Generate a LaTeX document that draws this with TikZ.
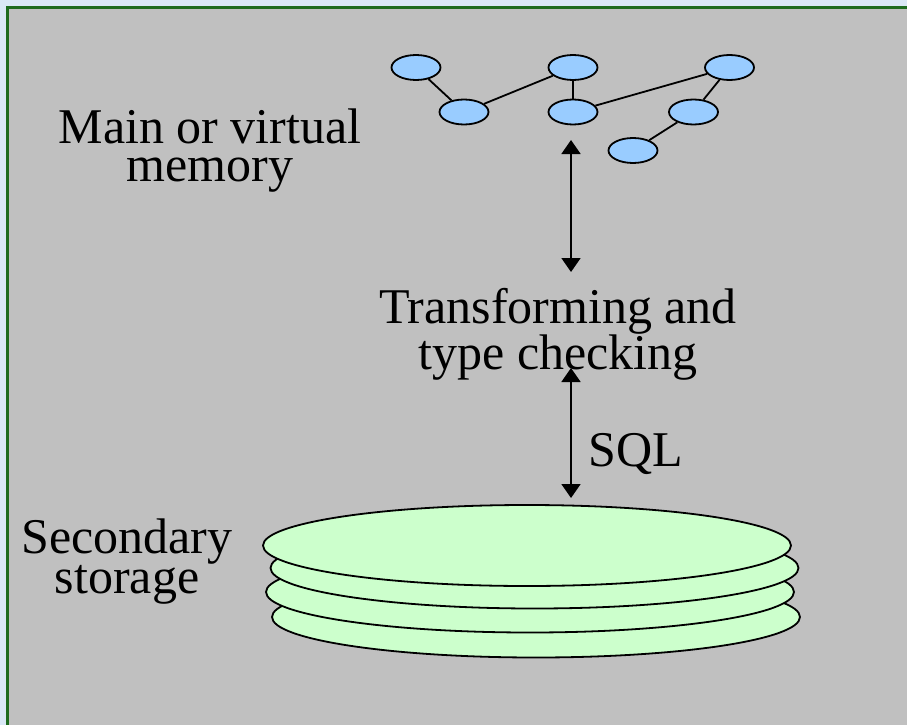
\documentclass[tikz,border=0pt]{standalone}
\usepackage{fontspec}
\setmainfont{Liberation Serif}
\usetikzlibrary{shapes.geometric,arrows.meta}
\definecolor{bgblue}{HTML}{DAE8F6}
\definecolor{panel}{HTML}{C0C0C0}
\definecolor{framegreen}{HTML}{1E6B1E}
\definecolor{objblue}{HTML}{99CCFF}
\definecolor{diskgreen}{HTML}{CCFFCC}
\tikzset{
  obj/.style={ellipse, draw, line width=1.8pt, fill=objblue, minimum width=49pt, minimum height=25pt, inner sep=0pt},
  disk/.style={ellipse, draw, line width=1.8pt, fill=diskgreen, minimum width=528pt, minimum height=81pt, inner sep=0pt},
  lbl/.style={align=center, inner sep=0pt, font=\fontsize{50}{38}\selectfont},
  link/.style={line width=1.8pt},
  dbl/.style={line width=1.8pt, {Triangle[width=19pt,length=14pt]}-{Triangle[width=19pt,length=14pt]}}
}
\begin{document}
\begin{tikzpicture}[x=1pt,y=-1pt]
\useasboundingbox (0,0) rectangle (907,725);
% background
\fill[bgblue] (0,0) rectangle (907,725);
\fill[panel] (7.3,7.3) rectangle (907,725);
\draw[framegreen, line width=2.5pt] (7.3,725) -- (7.3,7.3) -- (907,7.3);
% objects in memory
\node[obj] (e1) at (416,67.5) {};
\node[obj] (e2) at (573,67.5) {};
\node[obj] (e3) at (729.5,67.5) {};
\node[obj] (e4) at (464,112) {};
\node[obj] (e5) at (573,112) {};
\node[obj] (e6) at (693.5,112) {};
\node[obj] (e7) at (633,150.5) {};
\draw[link] (e1) -- (e4);
\draw[link] (e4) -- (e2);
\draw[link] (e2) -- (e5);
\draw[link] (e5) -- (e3);
\draw[link] (e3) -- (e6);
\draw[link] (e6) -- (e7);
% labels
\node[lbl] (mem) at (210,150.5) {Main or virtual\\memory};
\node[lbl] (trans) at (558,334.5) {Transforming and\\type checking};
\node[lbl] (sec) at (127,562) {Secondary\\storage};
\node[lbl, anchor=base] (sql) at (636,466.7) {SQL};
% disks
\node[disk] (d4) at (536,617) {};
\node[disk] (d3) at (530,592) {};
\node[disk] (d2) at (534.5,568) {};
\node[disk] (d1) at (527,545.5) {};
% arrows
\coordinate (a1t) at (571,140);
\coordinate (a1b) at (571,272);
\coordinate (a2t) at (571,368);
\coordinate (a2b) at (571,498);
\draw[dbl] (a1t) -- (a1b);
\draw[dbl] (a2t) -- (a2b);
\end{tikzpicture}
\end{document}
